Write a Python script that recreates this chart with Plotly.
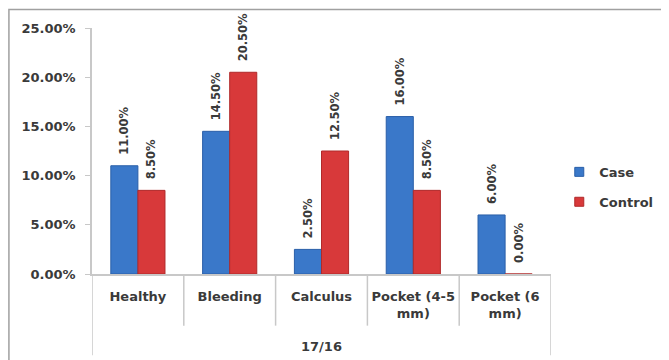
import plotly.graph_objects as go

categories = ["Healthy", "Bleeding", "Calculus", "Pocket (4-5<br>mm)", "Pocket (6<br>mm)"]
case_vals = [11.0, 14.5, 2.5, 16.0, 6.0]
control_vals = [8.5, 20.5, 12.5, 8.5, 0.0]
group_label = "17/16"
ytick_vals = [0, 5, 10, 15, 20, 25]
ytick_text = ["0.00%", "5.00%", "10.00%", "15.00%", "20.00%", "25.00%"]

FONT = "DejaVu Sans"
TXT = "#3a3a3a"
BLUE = "#3a78c9"
RED = "#d8393a"
PAD = "\u00a0\u00a0"

fig = go.Figure()
for name, vals, col, edge in [("Case", case_vals, BLUE, "#2a5fa8"),
                              ("Control", control_vals, RED, "#b02a2a")]:
    fig.add_trace(go.Bar(
        name=name, x=categories, y=vals, showlegend=False,
        marker=dict(color=col, line=dict(color=edge, width=1)),
        text=[f"{PAD}{v:.2f}%" for v in vals], textposition="outside",
        textangle=-90, cliponaxis=False, constraintext="none",
        textfont=dict(family=FONT, size=11.5, color=TXT, weight="bold"),
    ))
    # legend entry with square swatch
    fig.add_trace(go.Scatter(
        name=name, x=[None], y=[None], mode="markers", legendgroup=name,
        marker=dict(symbol="square", size=9, color=col,
                    line=dict(color=edge, width=1)),
    ))

shapes = []
n = len(categories)
for i in range(n + 1):
    b = i - 0.5
    outer = (i == 0 or i == n)
    shapes.append(dict(type="line", xref="x", yref="paper", x0=b, x1=b,
                       y0=0, y1=(-0.33 if outer else -0.21),
                       line=dict(color="#c8c8c8", width=1.5)))
# outer frame
shapes.append(dict(type="rect", xref="paper", yref="paper",
                   x0=-0.181, x1=1.6, y0=-0.6, y1=1.075,
                   line=dict(color="#a0a0a0", width=1.5), layer="below"))

fig.update_layout(
    width=661, height=352,
    margin=dict(l=84, r=118, t=20, b=86, autoexpand=False),
    paper_bgcolor="white", plot_bgcolor="white",
    barmode="group", bargap=0.41, bargroupgap=0,
    font=dict(family=FONT, size=13, color=TXT, weight="bold"),
    showlegend=True,
    legend=dict(xref="container", yref="paper", x=0.834, y=0.354,
                xanchor="left", yanchor="middle",
                font=dict(family=FONT, size=13, color=TXT, weight="bold"),
                itemwidth=30, tracegroupgap=10),
    shapes=shapes,
    xaxis=dict(showline=True, linecolor="#c8c8c8", linewidth=1.5,
               ticks="", ticklabelstandoff=10,
               tickfont=dict(family=FONT, size=13, color=TXT, weight="bold"),
               title=dict(text=group_label, standoff=22,
                          font=dict(family=FONT, size=13, color=TXT, weight="bold")),
               range=[-0.5, n - 0.5]),
    yaxis=dict(range=[0, 25], tickvals=ytick_vals, ticktext=ytick_text,
               showgrid=False, zeroline=False, showline=True,
               linecolor="#c8c8c8", linewidth=1.5,
               ticks="outside", ticklen=5, tickcolor="#c8c8c8",
               tickfont=dict(family=FONT, size=13, color=TXT, weight="bold"),
               ticklabelstandoff=7),
)

fig.write_html("out.html")
